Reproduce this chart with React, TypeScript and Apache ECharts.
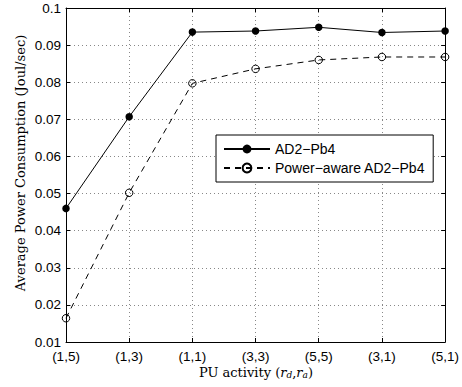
import React, { useEffect, useRef } from "react";
import * as echarts from "echarts";

const categories = ["(1,5)", "(1,3)", "(1,1)", "(3,3)", "(5,5)", "(3,1)", "(5,1)"];
const ad2Pb4 = [0.046, 0.0707, 0.0935, 0.0938, 0.0948, 0.0934, 0.0938];
const powerAware = [0.0164, 0.0502, 0.0797, 0.0836, 0.086, 0.0868, 0.0868];
const yMin = 0.01;
const yMax = 0.1;
const yInterval = 0.01;

export default function App() {
  const ref = useRef<HTMLDivElement>(null);
  useEffect(() => {
    if (!ref.current) return;
    const chart = echarts.init(ref.current, null, { renderer: "svg" });
    const tickFont = { fontFamily: "Liberation Sans", fontSize: 13.5, color: "#000" };
    const split = { show: true, lineStyle: { color: "#888", type: [1, 3] as any, width: 1 } };
    chart.setOption({
      animation: false,
      backgroundColor: "#fff",
      grid: { left: 66, right: 15, top: 8, bottom: 45, containLabel: false },
      legend: {
        orient: "vertical",
        left: 216,
        top: 135,
        itemWidth: 46,
        itemHeight: 11,
        itemGap: 5,
        padding: [7, 8, 7, 7],
        borderColor: "#000",
        borderWidth: 1,
        backgroundColor: "#fff",
        borderRadius: 0,
        textStyle: { fontFamily: "Liberation Sans", fontSize: 14, color: "#000" },
        data: [{ name: "AD2−Pb4" }, { name: "Power−aware AD2−Pb4" }],
      },
      xAxis: [
        {
          type: "category",
          data: categories,
          boundaryGap: false,
          axisLine: { lineStyle: { color: "#000", width: 1 } },
          axisTick: { inside: true, length: 4, lineStyle: { color: "#000" } },
          axisLabel: { ...tickFont, margin: 7 },
          splitLine: split,
        },
        {
          type: "category",
          data: categories,
          boundaryGap: false,
          position: "top",
          axisLine: { lineStyle: { color: "#000", width: 1 } },
          axisTick: { inside: true, length: 4, lineStyle: { color: "#000" } },
          axisLabel: { show: false },
          splitLine: { show: false },
        },
      ],
      yAxis: [
        {
          type: "value",
          min: yMin,
          max: yMax,
          interval: yInterval,
          axisLine: { show: true, lineStyle: { color: "#000", width: 1 } },
          axisTick: { show: true, inside: true, length: 4, lineStyle: { color: "#000" } },
          axisLabel: { ...tickFont, margin: 5, formatter: (v: number) => String(+v.toFixed(2)) },
          splitLine: split,
        },
        {
          type: "value",
          min: yMin,
          max: yMax,
          interval: yInterval,
          position: "right",
          axisLine: { show: true, lineStyle: { color: "#000", width: 1 } },
          axisTick: { show: true, inside: true, length: 4, lineStyle: { color: "#000" } },
          axisLabel: { show: false },
          splitLine: { show: false },
        },
      ],
      graphic: [
        {
          type: "text",
          rotation: Math.PI / 2,
          x: 20,
          y: 163,
          style: {
            text: "Average Power Consumption (Joul/sec)",
            fontFamily: "DejaVu Serif",
            fontSize: 13,
            fill: "#000",
            align: "center",
            verticalAlign: "middle",
          },
        },
        {
          type: "text",
          x: 256,
          y: 372,
          style: {
            text: "PU activity ({i|r}{s|d},{i|r}{s|a})",
            fontFamily: "DejaVu Serif",
            fontSize: 13,
            fill: "#000",
            align: "center",
            verticalAlign: "middle",
            rich: {
              i: { fontFamily: "DejaVu Serif", fontStyle: "italic", fontSize: 13, fill: "#000" },
              s: { fontFamily: "DejaVu Serif", fontStyle: "italic", fontSize: 9, fill: "#000", padding: [5, 0, 0, 0] },
            },
          },
        },
      ],
      series: [
        {
          name: "AD2−Pb4",
          type: "line",
          data: ad2Pb4,
          symbol: "circle",
          symbolSize: 7.5,
          itemStyle: { color: "#000" },
          lineStyle: { color: "#000", width: 1 },
        },
        {
          name: "Power−aware AD2−Pb4",
          type: "line",
          data: powerAware,
          symbol: "circle",
          symbolSize: 7.5,
          itemStyle: { color: "rgba(0,0,0,0)", borderColor: "#000", borderWidth: 1 },
          lineStyle: { color: "#000", width: 1, type: [6, 5] },
        },
      ],
    });
    return () => chart.dispose();
  }, []);
  return (
    <div
      ref={ref}
      style={{ position: "fixed", left: 0, top: 0, width: 462, height: 387 }}
    />
  );
}
